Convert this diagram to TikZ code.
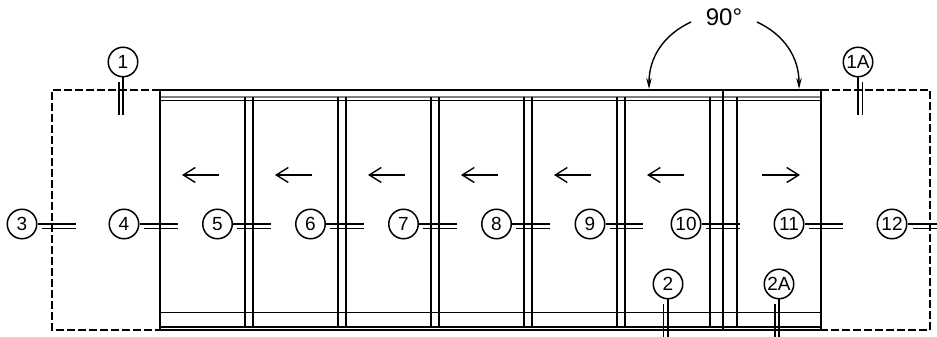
\documentclass[tikz,border=0pt]{standalone}
\usepackage{fontspec}
\setmainfont{Liberation Sans}
\usetikzlibrary{arrows.meta}
\tikzstyle{bubble} = [circle, draw=black, line width=1.5pt, minimum size=29.5pt, inner sep=0pt, font=\fontsize{19}{19}\selectfont]
\tikzstyle{lead}   = [line width=1.4pt]
\tikzstyle{wall}   = [line width=1.7pt]
\tikzstyle{rail}   = [line width=2.4pt]
\tikzstyle{hidden} = [line width=1.4pt, dash pattern=on 8pt off 3pt]
\tikzstyle{arrow}  = [line width=1.4pt,-{Straight Barb[length=12pt,width=15pt]}]
\tikzstyle{swing}  = [line width=1.4pt,-{Stealth[length=11pt,width=5.5pt]}]

\begin{document}
\begin{tikzpicture}[x=1pt,y=1pt]
        \useasboundingbox (0,0) rectangle (937,337);

        % area outside the panels
        \draw[hidden] (160,247) -- (52,247) -- (52,7) -- (160,7);
        \draw[hidden] (821,247) -- (930,247) -- (930,7) -- (821,7);

        % head and sill
        \draw[rail] (159,247) -- (822,247);
        \draw[lead, gray] (160,240) -- (821,240);
        \draw[wall] (160,236.5) -- (821,236.5);
        \draw[wall] (160,24.5) -- (821,24.5);
        \draw[wall] (160,10) -- (821,10);
        \draw[rail] (159,7) -- (822,7);

        % jambs and mullions
        \draw[wall] (160,247) -- (160,7);
        \draw[wall] (821,247) -- (821,7);
        \draw[wall] (245,240) -- (245,10);
        \draw[wall] (253,240) -- (253,10);
        \draw[wall] (338,240) -- (338,10);
        \draw[wall] (346,240) -- (346,10);
        \draw[wall] (431,240) -- (431,10);
        \draw[wall] (439,240) -- (439,10);
        \draw[wall] (524,240) -- (524,10);
        \draw[wall] (532,240) -- (532,10);
        \draw[wall] (617,240) -- (617,10);
        \draw[wall] (625,240) -- (625,10);
        \draw[wall] (710,240) -- (710,10);
        \draw[wall] (723,247) -- (723,7);
        \draw[wall] (737,240) -- (737,10);

        % slide direction
        \coordinate (a1s) at (219,162); \coordinate (a1e) at (182,162);
        \coordinate (a2s) at (312,162); \coordinate (a2e) at (275,162);
        \coordinate (a3s) at (405,162); \coordinate (a3e) at (368,162);
        \coordinate (a4s) at (498,162); \coordinate (a4e) at (461,162);
        \coordinate (a5s) at (591,162); \coordinate (a5e) at (554,162);
        \coordinate (a6s) at (684,162); \coordinate (a6e) at (647,162);
        \coordinate (a7s) at (762,162); \coordinate (a7e) at (800,162);
        \draw[arrow] (a1s) -- (a1e);
        \draw[arrow] (a2s) -- (a2e);
        \draw[arrow] (a3s) -- (a3e);
        \draw[arrow] (a4s) -- (a4e);
        \draw[arrow] (a5s) -- (a5e);
        \draw[arrow] (a6s) -- (a6e);
        \draw[arrow] (a7s) -- (a7e);

        % swing angle
        \node[font=\fontsize{24}{24}\selectfont] (angle) at (724,320) {90°};
        \coordinate (swingl) at (691,315); \coordinate (leafl) at (649,248);
        \coordinate (swingr) at (757,315); \coordinate (leafr) at (799,248);
        \draw[swing] (swingl) to[out=205,in=90] (leafl);
        \draw[swing] (swingr) to[out=-25,in=90] (leafr);

        % section marks, vertical
        \node[bubble] (s1) at (123,275) {1};
        \coordinate (s1a) at (123,222); \coordinate (s1b) at (119,255); \coordinate (s1c) at (119,222);
        \draw[lead] (s1) -- (s1a); \draw[lead] (s1b) -- (s1c);

        \node[bubble] (s1A) at (858,275) {1A};
        \coordinate (s1Aa) at (858,222); \coordinate (s1Ab) at (862.5,255); \coordinate (s1Ac) at (862.5,222);
        \draw[lead] (s1A) -- (s1Aa); \draw[lead] (s1Ab) -- (s1Ac);

        \node[bubble] (s2) at (668,53) {2};
        \coordinate (s2a) at (668,0); \coordinate (s2b) at (663.5,33); \coordinate (s2c) at (663.5,0);
        \draw[lead] (s2) -- (s2a); \draw[lead] (s2b) -- (s2c);

        \node[bubble] (s2A) at (779,53) {2A};
        \coordinate (s2Aa) at (779,0); \coordinate (s2Ab) at (775,33); \coordinate (s2Ac) at (775,0);
        \draw[lead] (s2A) -- (s2Aa); \draw[lead] (s2Ab) -- (s2Ac);

        % section marks, horizontal
        \node[bubble] (s3) at (22,113) {3};
        \coordinate (s3a) at (76,113); \coordinate (s3b) at (42,108.5); \coordinate (s3c) at (76,108.5);
        \draw[lead] (s3) -- (s3a); \draw[lead] (s3b) -- (s3c);

        \node[bubble] (s4) at (124,113) {4};
        \coordinate (s4a) at (178,113); \coordinate (s4b) at (144,108.5); \coordinate (s4c) at (178,108.5);
        \draw[lead] (s4) -- (s4a); \draw[lead] (s4b) -- (s4c);

        \node[bubble] (s5) at (217.5,113) {5};
        \coordinate (s5a) at (271,113); \coordinate (s5b) at (237,108.5); \coordinate (s5c) at (271,108.5);
        \draw[lead] (s5) -- (s5a); \draw[lead] (s5b) -- (s5c);

        \node[bubble] (s6) at (310.5,113) {6};
        \coordinate (s6a) at (364,113); \coordinate (s6b) at (330,108.5); \coordinate (s6c) at (364,108.5);
        \draw[lead] (s6) -- (s6a); \draw[lead] (s6b) -- (s6c);

        \node[bubble] (s7) at (403.5,113) {7};
        \coordinate (s7a) at (457,113); \coordinate (s7b) at (423,108.5); \coordinate (s7c) at (457,108.5);
        \draw[lead] (s7) -- (s7a); \draw[lead] (s7b) -- (s7c);

        \node[bubble] (s8) at (496.5,113) {8};
        \coordinate (s8a) at (550,113); \coordinate (s8b) at (516,108.5); \coordinate (s8c) at (550,108.5);
        \draw[lead] (s8) -- (s8a); \draw[lead] (s8b) -- (s8c);

        \node[bubble] (s9) at (590,113) {9};
        \coordinate (s9a) at (643,113); \coordinate (s9b) at (610,108.5); \coordinate (s9c) at (643,108.5);
        \draw[lead] (s9) -- (s9a); \draw[lead] (s9b) -- (s9c);

        \node[bubble] (s10) at (686,113) {10};
        \coordinate (s10a) at (740,113); \coordinate (s10b) at (706,108.5); \coordinate (s10c) at (740,108.5);
        \draw[lead] (s10) -- (s10a); \draw[lead] (s10b) -- (s10c);

        \node[bubble] (s11) at (789,113) {11};
        \coordinate (s11a) at (843,113); \coordinate (s11b) at (809,108.5); \coordinate (s11c) at (843,108.5);
        \draw[lead] (s11) -- (s11a); \draw[lead] (s11b) -- (s11c);

        \node[bubble] (s12) at (892,113) {12};
        \coordinate (s12a) at (937,113); \coordinate (s12b) at (913,108.5); \coordinate (s12c) at (937,108.5);
        \draw[lead] (s12) -- (s12a); \draw[lead] (s12b) -- (s12c);
    \end{tikzpicture}
\end{document}
